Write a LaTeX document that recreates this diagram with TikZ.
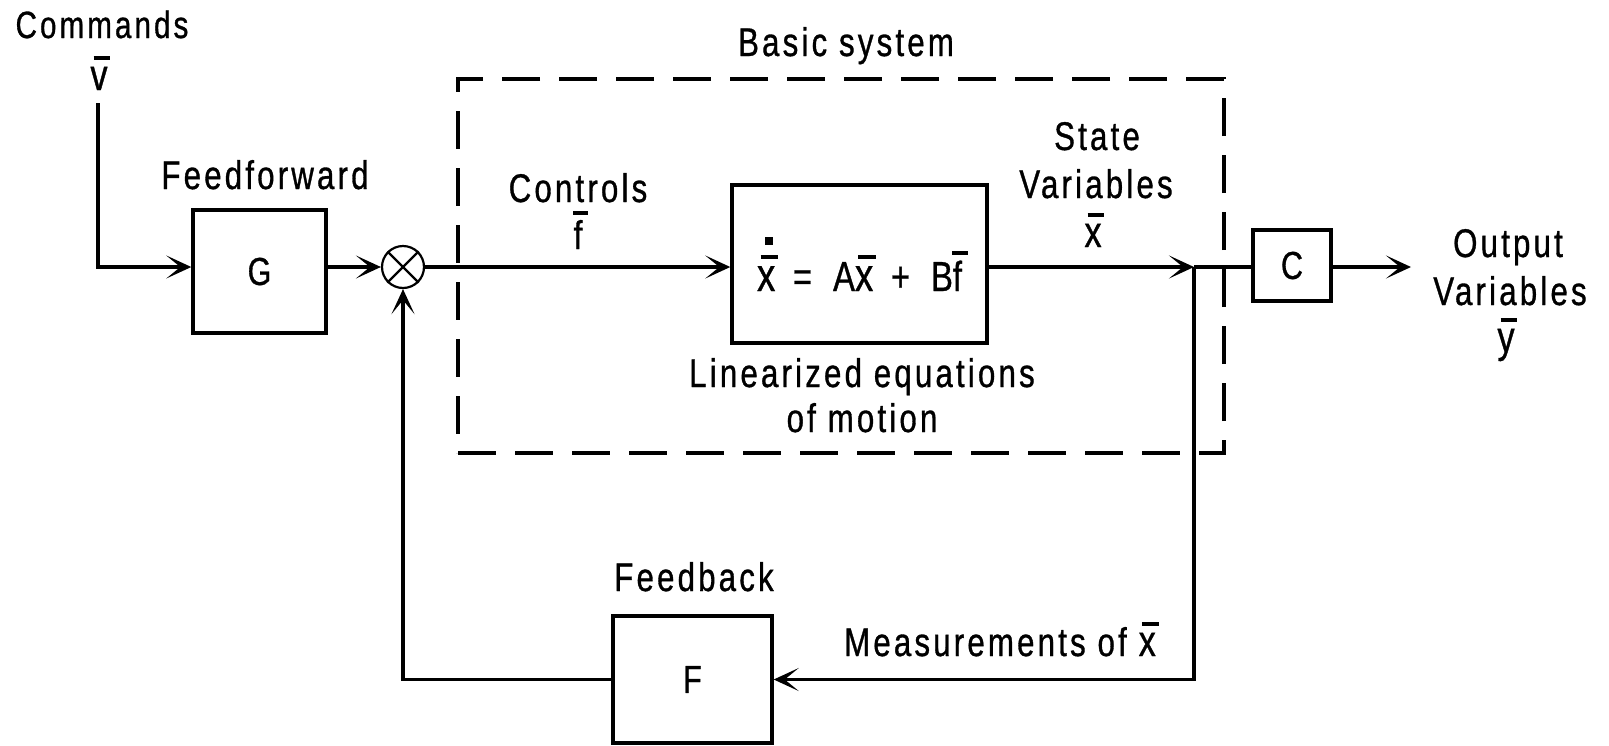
\documentclass[tikz,border=0pt]{standalone}
\usepackage{fontspec}
\setmainfont{Liberation Sans}[FakeStretch=0.78,LetterSpace=8,FakeBold=0.8]
\usetikzlibrary{arrows.meta}
% letter with short bar above (#1 = height of bar bottom)
\newcommand\ob[2][0.68em]{\leavevmode\setbox0\hbox{#2}\rlap{\hbox to \wd0{\hss\kern0.14em\raisebox{#1}{\rule{0.38em}{0.09em}}\hss}}\box0}
% letter with bar and dot above
\newcommand\obd[1]{\leavevmode\setbox0\hbox{#1}\rlap{\hbox to \wd0{\hss\kern0.14em\raisebox{0.68em}{\rule{0.38em}{0.09em}}\hss}}\rlap{\hbox to \wd0{\hss\kern0.14em\raisebox{0.98em}{\rule{0.17em}{0.17em}}\hss}}\box0}
\newcommand\vsz{\fontsize{44}{48}\selectfont}
\tikzset{
  txt/.style={anchor=base, inner sep=0pt, font=\fontsize{40}{46}\selectfont},
  blk/.style={draw, line width=3.4pt, inner sep=0pt, font=\fontsize{39}{44}\selectfont},
  arr/.style={-{Stealth[length=25pt,width=23pt,inset=14pt]}},
  dbox/.style={draw, dash pattern=on 38pt off 19pt, line width=3.2pt, inner sep=0pt}
}
\begin{document}
\begin{tikzpicture}[x=1pt,y=-1pt,line width=3.4pt]
\useasboundingbox (0,0) rectangle (1609,745);
% dashed basic system box
\node[dbox, minimum width=766pt, minimum height=374pt] (basicbox) at (841,266) {};
% blocks
\node[blk, minimum width=133pt, minimum height=123pt] (G) at (259.5,271.5) {G};
\node[blk, minimum width=255pt, minimum height=158pt, font=\fontsize{42}{46}\selectfont] (eq) at (859.5,264)
  {{\fontsize{47}{50}\selectfont\obd{x}}\hspace{0.42em}=\hspace{0.5em}A{\fontsize{47}{50}\selectfont\ob{x}}\hspace{0.42em}+\hspace{0.5em}B\ob[0.86em]{f}};
\node[blk, minimum width=78pt, minimum height=71pt] (C) at (1292,265.5) {C};
\node[blk, minimum width=159pt, minimum height=127pt] (F) at (692.5,679.5) {F};
\node[draw, circle, minimum size=42pt, inner sep=0pt, line width=2.2pt] (sum) at (403,267) {};
\draw[line width=2.2pt] (sum.north west) -- (sum.south east);
\draw[line width=2.2pt] (sum.north east) -- (sum.south west);
% labels
\node[txt, font=\fontsize{38}{44}\selectfont] (cmdA) at (102,38) {Commands};
\node[txt] (cmdB) at (99,90) {\vsz\ob{v}};
\node[txt] (basic) at (846,56) {Basic system};
\node[txt] (ffw) at (265,189) {Feedforward};
\node[txt] (ctlA) at (578,202) {Controls};
\node[txt] (ctlB) at (578,249) {\ob[0.86em]{f}};
\node[txt] (stA) at (1097,150) {State};
\node[txt] (stB) at (1096,198) {Variables};
\node[txt] (stC) at (1093,247) {\vsz\ob{x}};
\node[txt] (linA) at (862,387) {Linearized equations};
\node[txt] (linB) at (862,432) {of motion};
\node[txt] (fbk) at (694,591) {Feedback};
\node[txt] (meas) at (1000,656) {Measurements of \vsz\ob{x}};
\node[txt] (outA) at (1508,257) {Output};
\node[txt] (outB) at (1510,305) {Variables};
\node[txt] (outC) at (1506,352) {\vsz\ob{y}};
% connectors
\coordinate (cmdtop) at (98,103);
\coordinate (J) at (1194,267);
\coordinate (out) at (1411,267);
\draw[arr] (cmdtop) |- (G.west |- sum.center);
\draw[arr] (G.east |- sum.center) -- (sum.west);
\draw[arr] (sum.east) -- (eq.west |- sum.center);
\draw[arr] (eq.east |- sum.center) -- (J);
\draw (J) -- (C.west |- J);
\draw[arr] (C.east |- J) -- (out);
\draw[arr] (J) |- (F.east);
\draw[arr] (F.west) -| (sum.south);
\end{tikzpicture}
\end{document}
